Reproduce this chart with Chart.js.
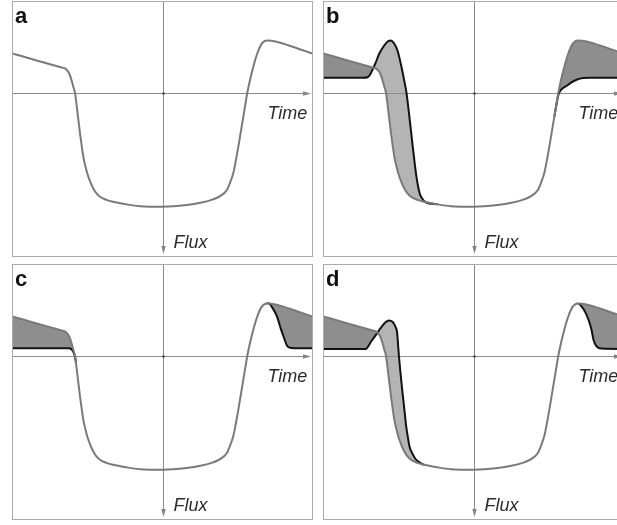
<!DOCTYPE html>
<html>
<head>
<meta charset="utf-8">
<script src="https://cdn.jsdelivr.net/npm/chart.js@4.4.0/dist/chart.umd.min.js"></script>
<style>
  html, body { margin: 0; padding: 0; background: #fff; }
  body { width: 617px; height: 525px; position: relative; overflow: hidden; }
  canvas { position: absolute; }
</style>
</head>
<body>
<canvas id="panelA" width="303" height="258" style="left:11px;top:0px"></canvas>
<canvas id="panelB" width="303" height="258" style="left:322px;top:0px"></canvas>
<canvas id="panelC" width="303" height="258" style="left:11px;top:263px"></canvas>
<canvas id="panelD" width="303" height="258" style="left:322px;top:263px"></canvas>
<script>
// time in units of the half-width, flux normalised to the full depth (down = brighter)
const grayTime = [-1.505, -1.25, -1.0, -0.975, -0.942, -0.92, -0.892, -0.875, -0.865, -0.845,
  -0.825, -0.808, -0.792, -0.772, -0.752, -0.722, -0.692, -0.66, -0.625, -0.56,
  -0.495, -0.36, -0.225, 0, 0.242, 0.38, 0.505, 0.58, 0.642, 0.675,
  0.708, 0.733, 0.758, 0.783, 0.808, 0.828, 0.848, 0.878, 0.908, 0.94,
  0.975, 1.005, 1.042, 1.09, 1.142, 1.30, 1.505];
const grayFlux = [-0.346, -0.281, -0.220, -0.214, -0.184, -0.140, -0.053, 0, 0.064, 0.211,
  0.356, 0.465, 0.561, 0.640, 0.707, 0.781, 0.839, 0.882, 0.912, 0.939,
  0.956, 0.978, 0.994, 1.0, 0.985, 0.965, 0.935, 0.904, 0.854, 0.789,
  0.704, 0.596, 0.474, 0.342, 0.211, 0.105, 0, -0.123, -0.228, -0.325,
  -0.404, -0.443, -0.459, -0.456, -0.447, -0.404, -0.342];

// b: flat baseline, bump and delayed ingress
const bTime = [-1.505, -1.10, -1.06, -1.035, -1.01, -0.975, -0.943, -0.893, -0.855, -0.827,
  -0.795, -0.76, -0.727, -0.693, -0.67, -0.637, -0.603, -0.57, -0.537, -0.515,
  -0.48, -0.36, -0.225, 0, 0.242, 0.38, 0.505, 0.58, 0.642, 0.675,
  0.708, 0.733, 0.758, 0.783, 0.808, 0.83, 0.85, 0.88, 0.937, 0.98,
  1.037, 1.10, 1.16, 1.505];
const bFlux = [-0.132, -0.132, -0.136, -0.158, -0.202, -0.272, -0.342, -0.415, -0.452, -0.459,
  -0.434, -0.371, -0.254, -0.108, 0, 0.243, 0.506, 0.740, 0.886, 0.925,
  0.960, 0.978, 0.994, 1.0, 0.985, 0.965, 0.935, 0.904, 0.854, 0.789,
  0.704, 0.596, 0.474, 0.342, 0.211, 0.10, 0.015, -0.03, -0.064, -0.092,
  -0.117, -0.129, -0.132, -0.132];

// c: flat baseline, early egress drop
const cTime = [-1.505, -0.94, -0.91, -0.885, -0.87, -0.865, -0.845, -0.825, -0.808, -0.792,
  -0.772, -0.752, -0.722, -0.692, -0.66, -0.625, -0.56, -0.495, -0.36, -0.225,
  0, 0.242, 0.38, 0.505, 0.58, 0.642, 0.675, 0.708, 0.733, 0.758,
  0.783, 0.808, 0.828, 0.848, 0.878, 0.908, 0.94, 0.975, 1.005, 1.042,
  1.06, 1.10, 1.144, 1.18, 1.21, 1.25, 1.29, 1.35, 1.505];
const cFlux = [-0.066, -0.066, -0.058, -0.02, 0.03, 0.064, 0.211, 0.356, 0.465, 0.561,
  0.640, 0.707, 0.781, 0.839, 0.882, 0.912, 0.939, 0.956, 0.978, 0.994,
  1.0, 0.985, 0.965, 0.935, 0.904, 0.854, 0.789, 0.704, 0.596, 0.474,
  0.342, 0.211, 0.105, 0, -0.123, -0.228, -0.325, -0.404, -0.443, -0.459,
  -0.46, -0.42, -0.345, -0.246, -0.169, -0.082, -0.068, -0.066, -0.066];

// d: both effects together
const dTime = [-1.505, -1.08, -1.02, -0.963, -0.92, -0.88, -0.846, -0.81, -0.78, -0.763,
  -0.755, -0.746, -0.73, -0.713, -0.693, -0.673, -0.655, -0.64, -0.613, -0.58,
  -0.53, -0.495, -0.36, -0.225, 0, 0.242, 0.38, 0.505, 0.58, 0.642,
  0.675, 0.708, 0.733, 0.758, 0.783, 0.808, 0.828, 0.848, 0.878, 0.908,
  0.94, 0.975, 1.005, 1.042, 1.10, 1.15, 1.18, 1.20, 1.22, 1.24,
  1.28, 1.505];
const dFlux = [-0.06, -0.06, -0.13, -0.199, -0.254, -0.294, -0.31, -0.298, -0.254, -0.199,
  -0.105, 0, 0.149, 0.298, 0.456, 0.62, 0.72, 0.796, 0.854, 0.905,
  0.94, 0.956, 0.978, 0.994, 1.0, 0.985, 0.965, 0.935, 0.904, 0.854,
  0.789, 0.704, 0.596, 0.474, 0.342, 0.211, 0.105, 0, -0.123, -0.228,
  -0.325, -0.404, -0.443, -0.459, -0.41, -0.316, -0.228, -0.14, -0.096, -0.076,
  -0.063, -0.06];

const timeLabel = 'Time';
const fluxLabel = 'Flux';

const pts = (ts, fs) => ts.map((t, i) => ({ x: t, y: fs[i] }));

// true when a point of the black curve sits exactly on the gray one
function onGray(ts, fs, i) {
  const k = grayTime.indexOf(ts[i]);
  return k >= 0 && grayFlux[k] === fs[i];
}

// frame, axes with arrows, and the text on each panel
const panelDecor = {
  id: 'panelDecor',
  beforeDatasetsDraw(chart) {
    const { ctx, chartArea: a, scales: { x, y } } = chart;
    const cx = Math.round(x.getPixelForValue(0)) + 0.5;
    const cy = Math.round(y.getPixelForValue(0)) + 0.5;
    ctx.save();
    ctx.strokeStyle = '#8c8c8c';
    ctx.lineWidth = 1;
    ctx.beginPath();
    ctx.moveTo(a.left, cy);
    ctx.lineTo(a.right - 6, cy);
    ctx.moveTo(cx, a.top);
    ctx.lineTo(cx, a.bottom - 7);
    ctx.stroke();

    ctx.fillStyle = '#858585';
    ctx.beginPath();
    ctx.moveTo(a.right - 2, cy);
    ctx.lineTo(a.right - 10, cy - 2.2);
    ctx.lineTo(a.right - 10, cy + 2.2);
    ctx.closePath();
    ctx.fill();
    ctx.beginPath();
    ctx.moveTo(cx, a.bottom - 3);
    ctx.lineTo(cx - 2.2, a.bottom - 11);
    ctx.lineTo(cx + 2.2, a.bottom - 11);
    ctx.closePath();
    ctx.fill();

    ctx.fillStyle = '#444';
    ctx.beginPath();
    ctx.arc(cx, cy, 1.3, 0, Math.PI * 2);
    ctx.fill();
    ctx.restore();
  },
  afterDraw(chart, args, opts) {
    const { ctx, chartArea: a, scales: { x, y } } = chart;
    const cx = x.getPixelForValue(0);
    const cy = y.getPixelForValue(0);
    ctx.save();
    ctx.strokeStyle = '#ababab';
    ctx.lineWidth = 1;
    ctx.strokeRect(a.left + 0.5, a.top + 0.5, a.width - 1, a.height - 1);

    ctx.fillStyle = '#111';
    ctx.font = 'bold 22px "Liberation Sans", Arial, sans-serif';
    ctx.textBaseline = 'alphabetic';
    ctx.fillText(opts.letter, a.left + 3, a.top + 22);

    ctx.fillStyle = '#2b2b2b';
    ctx.font = 'italic 18px "Liberation Sans", Arial, sans-serif';
    ctx.fillText(timeLabel, cx + 105, cy + 26);
    ctx.fillText(fluxLabel, cx + 11, a.bottom - 9);
    ctx.restore();
  }
};

function makePanel(id, letter, blackTime, blackFlux) {
  const datasets = [{
    data: pts(grayTime, grayFlux),
    borderColor: '#7a7a7a',
    borderWidth: 2,
    fill: blackTime ? { target: 1, above: '#8e8e8e', below: '#b4b4b4' } : false
  }];
  if (blackTime) {
    datasets.push({
      data: pts(blackTime, blackFlux),
      borderColor: '#111',
      borderWidth: 2,
      fill: false,
      segment: {
        // where the two curves coincide only the gray one shows
        borderColor: s => (onGray(blackTime, blackFlux, s.p0DataIndex) &&
          onGray(blackTime, blackFlux, s.p1DataIndex)) ? 'rgba(0,0,0,0)' : undefined
      }
    });
  }
  return new Chart(document.getElementById(id), {
    type: 'line',
    data: { datasets },
    options: {
      responsive: false,
      animation: false,
      events: [],
      layout: { padding: 1 },
      elements: {
        point: { radius: 0 },
        line: { cubicInterpolationMode: 'monotone' }
      },
      scales: {
        x: { type: 'linear', min: -1.505, max: 1.505, display: false },
        y: { min: -0.805, max: 1.44, reverse: true, display: false }
      },
      plugins: {
        legend: { display: false },
        tooltip: { enabled: false },
        filler: { drawTime: 'beforeDatasetsDraw' },
        panelDecor: { letter }
      }
    },
    plugins: [panelDecor]
  });
}

makePanel('panelA', 'a');
makePanel('panelB', 'b', bTime, bFlux);
makePanel('panelC', 'c', cTime, cFlux);
makePanel('panelD', 'd', dTime, dFlux);
</script>
</body>
</html>
